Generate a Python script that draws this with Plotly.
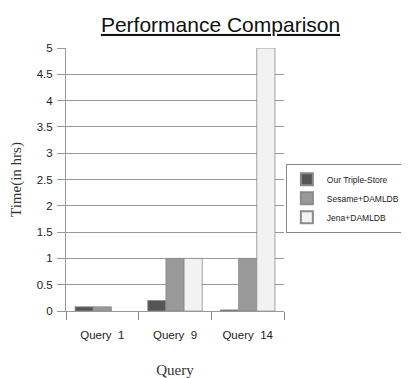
import plotly.graph_objects as go

categories = ["Query  1", "Query  9", "Query  14"]
series_names = ["Our Triple-Store", "Sesame+DAMLDB", "Jena+DAMLDB"]
our_triple_store = [0.08, 0.2, 0.02]
sesame_damldb = [0.08, 1.0, 1.0]
jena_damldb = [0.0, 1.0, 5.0]
y_ticks = [0, 0.5, 1, 1.5, 2, 2.5, 3, 3.5, 4, 4.5, 5]

colors = ["#555555", "#999999", "#f2f2f2"]
fig = go.Figure()
for name, vals, c in zip(series_names, [our_triple_store, sesame_damldb, jena_damldb], colors):
    line_w = [0.8 if v > 0 else 0 for v in vals]
    fig.add_trace(go.Bar(x=categories, y=vals, name=name,
                         marker=dict(color=c, line=dict(color="#8a8a8a", width=line_w))))

fig.update_layout(
    width=401, height=370,
    margin=dict(l=58, r=0, t=40, b=67, autoexpand=False),
    paper_bgcolor="white", plot_bgcolor="white",
    barmode="group", bargap=0.25, bargroupgap=0,
    title=dict(text="<u>Performance Comparison</u>", x=0.53, xanchor="center", y=0.975, yanchor="top",
               font=dict(family="Liberation Sans, Arial", size=21, color="#111")),
    font=dict(family="Liberation Sans, Arial", size=11.5, color="#222"),
    legend=dict(x=0.641, y=0.56, xanchor="left", yanchor="top",
                bordercolor="#888", borderwidth=1, bgcolor="white",
                font=dict(size=8.5, family="Liberation Sans, Arial"),
                tracegroupgap=0, itemwidth=30, itemsizing="constant"),
    showlegend=True,
)
fig.update_yaxes(range=[0, 5], tickvals=y_ticks, ticktext=[f"{v:g}" for v in y_ticks],
                 showgrid=True, gridcolor="#999", gridwidth=1,
                 showline=True, linecolor="#999", linewidth=1,
                 ticks="outside", ticklen=8, tickcolor="#999",
                 ticklabelstandoff=2,
                 zeroline=False, automargin=False,
                 title=dict(text="Time(in hrs)", font=dict(family="Liberation Serif, Times New Roman", size=15, color="#333"), standoff=13))
fig.update_xaxes(domain=[0, 218 / 343], automargin=False,
                 showline=True, linecolor="#999", linewidth=1,
                 ticks="outside", tickson="boundaries", ticklen=8, tickcolor="#888",
                 ticklabelstandoff=13,
                 showgrid=False,
                 title=dict(text="Query", font=dict(family="Liberation Serif, Times New Roman", size=15, color="#333"), standoff=24))

fig.write_html("out.html")
